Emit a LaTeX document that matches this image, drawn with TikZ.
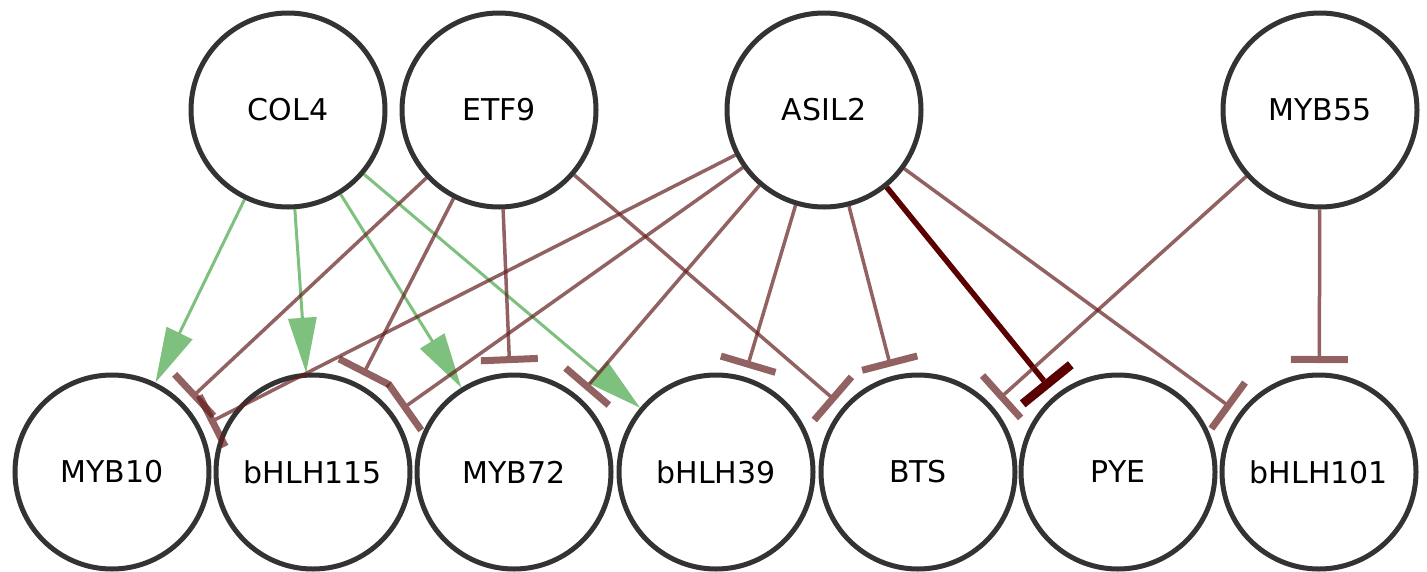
\documentclass[tikz,border=0pt]{standalone}
\usepackage{fontspec}
\setmainfont{DejaVu Sans}
\usetikzlibrary{arrows.meta}
\definecolor{nodeborder}{RGB}{51,51,51}
\definecolor{inhib}{RGB}{100,30,30}
\definecolor{act}{RGB}{40,150,40}
\definecolor{strong}{RGB}{90,0,0}
\begin{document}
\begin{tikzpicture}[x=1pt,y=-1pt,
 gene/.style={circle, draw=nodeborder, line width=5pt, minimum size=194pt, inner sep=0pt, font=\fontsize{30}{36}\selectfont, fill=white},
 actedge/.style={draw=act, opacity=0.6, line width=3pt, -{Triangle[length=55pt,width=29pt,line width=0pt]}},
 inhedge/.style={draw=inhib, opacity=0.7, line width=3.5pt, -{Rectangle[length=7pt,width=57pt,line width=0pt]}, shorten >=9.5pt},
 strongedge/.style={draw=strong, line width=5.5pt, -{Rectangle[length=9pt,width=62pt,line width=0pt]}, shorten >=9pt}]
\useasboundingbox (0,0) rectangle (1427,571);
% top row
\node[gene] (col4) at (288,110) {COL4};
\node[gene] (etf9) at (499,110) {ETF9};
\node[gene] (asil2) at (824,110) {ASIL2};
\node[gene] (myb55) at (1320,110) {MYB55};
% bottom row
\node[gene] (myb10) at (112,472) {MYB10};
\node[gene] (bhlh115) at (313,472) {bHLH115};
\node[gene] (myb72) at (514,472) {MYB72};
\node[gene] (bhlh39) at (716,472) {bHLH39};
\node[gene] (bts) at (918,472) {BTS};
\node[gene] (pye) at (1118,472) {PYE};
\node[gene] (bhlh101) at (1319,472) {bHLH101};
% activation
\draw[actedge] (col4) -- (myb10);
\draw[actedge] (col4) -- (bhlh115);
\draw[actedge] (col4) -- (myb72);
\draw[actedge] (col4) -- (bhlh39);
% repression
\draw[inhedge] (etf9) -- (myb10);
\draw[inhedge] (etf9) -- (bhlh115);
\draw[inhedge] (etf9) -- (myb72);
\draw[inhedge] (etf9) -- (bts);
\draw[inhedge] (asil2) -- (myb10);
\draw[inhedge] (asil2) -- (bhlh115);
\draw[inhedge] (asil2) -- (myb72);
\draw[inhedge] (asil2) -- (bhlh39);
\draw[inhedge] (asil2) -- (bts);
\draw[inhedge] (asil2) -- (bhlh101);
\draw[strongedge] (asil2) -- (pye);
\draw[inhedge] (myb55) -- (bts);
\draw[inhedge] (myb55) -- (bhlh101);
\end{tikzpicture}
\end{document}
